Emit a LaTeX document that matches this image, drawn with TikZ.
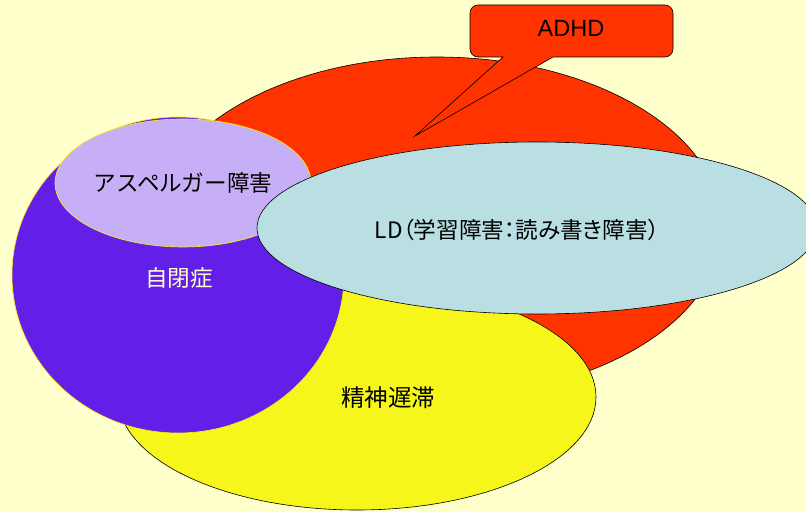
\documentclass[tikz,border=0pt]{standalone}
\usepackage{fontspec}
\setmainfont{Liberation Sans}
\newfontfamily\jp{Noto Sans CJK JP}
\newfontfamily\jpp[RawFeature=+palt]{Noto Sans CJK JP}
\usetikzlibrary{shapes.geometric}
\definecolor{bg}{RGB}{255,255,204}
\definecolor{adred}{RGB}{255,51,0}
\definecolor{mryellow}{RGB}{246,246,26}
\definecolor{autpurple}{RGB}{99,31,232}
\definecolor{asplav}{RGB}{199,175,247}
\definecolor{ldblue}{RGB}{185,223,227}
\definecolor{edgeyellow}{RGB}{255,240,0}
\definecolor{cream}{RGB}{255,255,204}
\begin{document}
\begin{tikzpicture}[x=1pt,y=1pt,
  blob/.style={ellipse, inner sep=0pt, outer sep=0pt, line width=0.6pt},
  lbl/.style={inner sep=0pt, text=black, font=\jp\fontsize{22.6}{26}\selectfont}]
\useasboundingbox (0,0) rectangle (806,512);
\fill[bg] (0,0) rectangle (806,512);
\clip (0,0) rectangle (806,512);
% ADHD ellipse
\node[blob, draw=black, fill=adred, minimum width=570pt, minimum height=340pt] (adhd) at (437,285) {};
% callout
\coordinate (tip) at (415,376);
\draw[fill=adred, line width=0.6pt, line join=miter]
  (503,455) -- (tip) -- (553,455) -- (665,455) arc (270:360:8) -- (673,499) arc (0:90:8)
  -- (478,507) arc (90:180:8) -- (470,463) arc (180:270:8) -- cycle;
\node[inner sep=0pt, font=\fontsize{23.5}{27}\selectfont] (adhdtxt) at (571,484) {ADHD};
% mental retardation
\node[blob, draw=black, fill=mryellow, minimum width=478pt, minimum height=226pt] (mr) at (357,115) {};
% autism
\node[blob, draw=edgeyellow, fill=autpurple, minimum width=332pt, minimum height=316pt] (aut) at (178,237) {};
% asperger
\node[blob, draw=edgeyellow, fill=asplav, minimum width=256pt, minimum height=128pt] (asp) at (183,329) {};
% LD
\node[blob, draw=black, fill=ldblue, minimum width=560pt, minimum height=172pt] (ld) at (537,284) {};
% labels
\node[lbl] (asptxt) at (183,329) {アスペルガー障害};
\node[lbl, text=cream] (auttxt) at (179,234) {自閉症};
\node[lbl, font=\jpp\fontsize{22.6}{26}\selectfont] (ldtxt) at (517,282) {LD（学習障害：読み書き障害）};
\node[lbl, font=\jp\fontsize{23.5}{27}\selectfont] (mrtxt) at (388,114) {精神遅滞};
\end{tikzpicture}
\end{document}
